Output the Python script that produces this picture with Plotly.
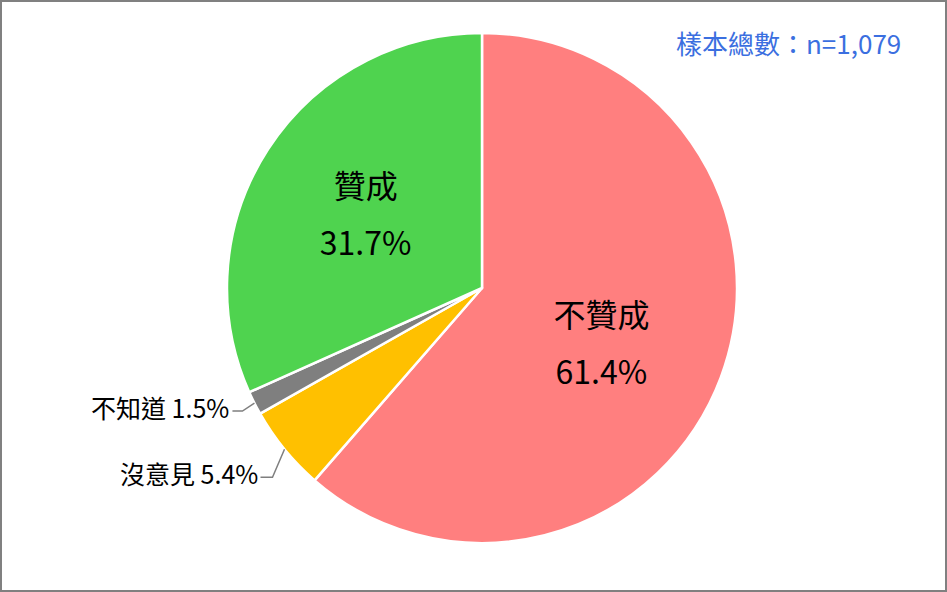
import math
import plotly.graph_objects as go

labels = ["不贊成", "沒意見", "不知道", "贊成"]
values = [61.4, 5.4, 1.5, 31.7]
colors = ["#FF7F7F", "#FFC000", "#7F7F7F", "#4FD34F"]
sample_note = "樣本總數：n=1,079"

FONT = "Noto Sans CJK TC, Microsoft JhengHei, sans-serif"
W, H = 947, 592
# pie domain (paper fractions)
DOM_X = [227 / W, 737 / W]
DOM_Y = [1 - 543 / H, 1 - 33 / H]

# which slices get inside labels; others get outside labels with leader lines
inside = [True, False, False, True]
# leader-line style for outside labels: (elbow dx, elbow dy, horizontal run) in px
leader_style = {"沒意見": (-12, 28, -12), "不知道": (-12, 8, -10)}

SPAN = "<span style='font-size:32px'>{}</span>"
red_tpl = ("&nbsp;<br>" + SPAN.format("%{label}") + "<br>&nbsp;<br>"
           + SPAN.format("%{value:.1f}%"))
green_tpl = SPAN.format("%{label}") + "<br>" + SPAN.format("%{value:.1f}%")
templates = [red_tpl, "", "", green_tpl]
text_sizes = [22, 22, 22, 44]
positions = ["inside" if f else "none" for f in inside]

fig = go.Figure(go.Pie(
    labels=labels,
    values=values,
    sort=False,
    direction="clockwise",
    rotation=0,
    marker=dict(colors=colors, line=dict(color="white", width=2.5)),
    texttemplate=templates,
    textposition=positions,
    insidetextorientation="horizontal",
    insidetextfont=dict(family=FONT, size=text_sizes, color="black"),
    hoverinfo="label+percent",
    showlegend=False,
    domain=dict(x=DOM_X, y=DOM_Y),
))

# geometry of the pie as plotly lays it out (margins are 0)
cx = (DOM_X[0] + DOM_X[1]) / 2 * W
cy = (1 - (DOM_Y[0] + DOM_Y[1]) / 2) * H
R = min((DOM_X[1] - DOM_X[0]) * W, (DOM_Y[1] - DOM_Y[0]) * H) / 2

total = sum(values)
cum = 0.0
for lab, val, f in zip(labels, values, inside):
    mid = (cum + val / 2) / total * 2 * math.pi
    cum += val
    if f:
        continue
    ex = cx + R * math.sin(mid)
    ey = cy - R * math.cos(mid)
    dx, dy, run = leader_style[lab]
    bx, by = ex + dx, ey + dy
    tx, ty = bx + run, by
    fig.add_shape(
        type="path", xref="paper", yref="paper",
        path=f"M {ex / W},{1 - ey / H} L {bx / W},{1 - by / H} L {tx / W},{1 - ty / H}",
        line=dict(color="#7F7F7F", width=1.5),
    )
    fig.add_annotation(
        text=f"{lab} {val:.1f}%", xref="paper", yref="paper",
        x=(tx - 1) / W, y=1 - (ty - 4) / H, xanchor="right", yanchor="middle",
        showarrow=False, font=dict(family=FONT, size=25, color="black"),
    )

fig.add_annotation(
    text=sample_note, xref="paper", yref="paper", x=903 / W, y=1 - 42 / H,
    xanchor="right", yanchor="middle", showarrow=False,
    font=dict(family=FONT, size=26, color="#3B6FE0"),
)

fig.add_shape(type="rect", xref="paper", yref="paper", x0=0, y0=0, x1=1, y1=1,
              line=dict(color="#808080", width=4), layer="above")

fig.update_layout(
    width=W, height=H,
    margin=dict(l=0, r=0, t=0, b=0, autoexpand=False),
    paper_bgcolor="white", plot_bgcolor="white",
    font=dict(family=FONT),
)

fig.write_html("out.html", config={"displayModeBar": False},
               post_script="document.body.style.margin='0';")
